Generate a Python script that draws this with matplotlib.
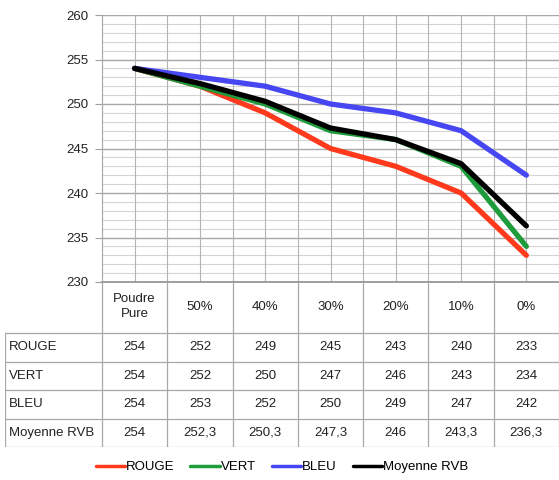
import matplotlib.pyplot as plt
import numpy as np

plt.rcParams['font.family'] = ['Liberation Sans', 'DejaVu Sans']

categories = ['Poudre\nPure', '50%', '40%', '30%', '20%', '10%', '0%']
rouge = [254, 252, 249, 245, 243, 240, 233]
vert = [254, 252, 250, 247, 246, 243, 234]
bleu = [254, 253, 252, 250, 249, 247, 242]
moyenne = [254, 252.3, 250.3, 247.3, 246, 243.3, 236.3]
series_names = ['ROUGE', 'VERT', 'BLEU', 'Moyenne RVB']
series_colors = ['#ff3a1c', '#1e9c3c', '#4646f2', '#000000']

W, H = 559, 480
fig = plt.figure(figsize=(W / 100, H / 100), dpi=100)

# plot area in pixels
left, right, top, bottom = 102, 559, 15, 282
ax = fig.add_axes([left / W, 1 - bottom / H, (right - left) / W, (bottom - top) / H])
x = np.arange(len(categories))
ax.set_xlim(-0.5, len(categories) - 0.5)
ax.set_ylim(230, 260)

# grid like Excel
for yv in range(230, 261):
    major = yv % 5 == 0
    ax.axhline(yv, color='#a8a8a8' if major else '#d4d4d4', lw=1.0 if major else 0.8, zorder=0)
for xv in np.arange(-0.5, len(categories), 0.5):
    ax.axvline(xv, color='#b4b4b4', lw=0.8, zorder=0)

all_series = [rouge, vert, bleu, moyenne]
lines = []
for vals, name, col in zip(all_series, series_names, series_colors):
    ln, = ax.plot(x, vals, color=col, lw=3.8, label=name, solid_capstyle='round', solid_joinstyle='round', zorder=3)
    lines.append(ln)

ax.set_yticks(range(230, 261, 5))
ax.set_xticks([])
ax.tick_params(axis='y', length=5, color='#a0a0a0', labelsize=9.5, labelcolor='#222222', pad=5)
for s in ['top', 'right']:
    ax.spines[s].set_visible(False)
ax.spines['left'].set_color('#a8a8a8')
ax.spines['bottom'].set_color('#909090')
ax.spines['bottom'].set_linewidth(1.2)

# data table below the plot
tab_left, tab_bottom = 5, 447
tax = fig.add_axes([tab_left / W, 1 - tab_bottom / H, (right - tab_left) / W, (tab_bottom - bottom) / H])
colw = (right - left) / len(categories)
lab_w = (left - tab_left) / colw
tax.set_xlim(-0.5 - lab_w, len(categories) - 0.5)
tax.set_ylim(tab_bottom - bottom, 0)
tax.axis('off')

header_h = 51
row_h = (tab_bottom - bottom - header_h) / 4
gc = '#a8a8a8'
# header row
for xv in np.arange(-0.5, len(categories) + 0.5, 1):
    tax.plot([xv, xv], [0, tab_bottom - bottom], color=gc, lw=0.9)
tax.plot([-0.5 - lab_w, -0.5 - lab_w], [header_h, tab_bottom - bottom], color=gc, lw=0.9)
for i, cat in enumerate(categories):
    tax.text(i, header_h / 2 - 1, cat, ha='center', va='center', fontsize=9.5, color='#222222', linespacing=1.35)
for r in range(5):
    yv = header_h + r * row_h
    tax.plot([-0.5 - lab_w, len(categories) - 0.5], [yv, yv], color=gc, lw=0.9)
for r, (name, vals) in enumerate(zip(series_names, all_series)):
    yc = header_h + (r + 0.5) * row_h
    tax.text(-0.5 - lab_w + 0.06, yc, name, ha='left', va='center', fontsize=9.5, color='#222222')
    for i, v in enumerate(vals):
        txt = ('%g' % v).replace('.', ',')
        tax.text(i, yc, txt, ha='center', va='center', fontsize=9.5, color='#222222')

fig.legend(handles=lines, labels=series_names, loc='center', bbox_to_anchor=(282 / W, 1 - 467 / H),
           ncol=4, frameon=False, fontsize=9.5, handlelength=2.2, handletextpad=0.1, columnspacing=1.2)
for lh in fig.legends[0].legend_handles:
    lh.set_linewidth(2.5)

fig.savefig('out.png', dpi=100)
